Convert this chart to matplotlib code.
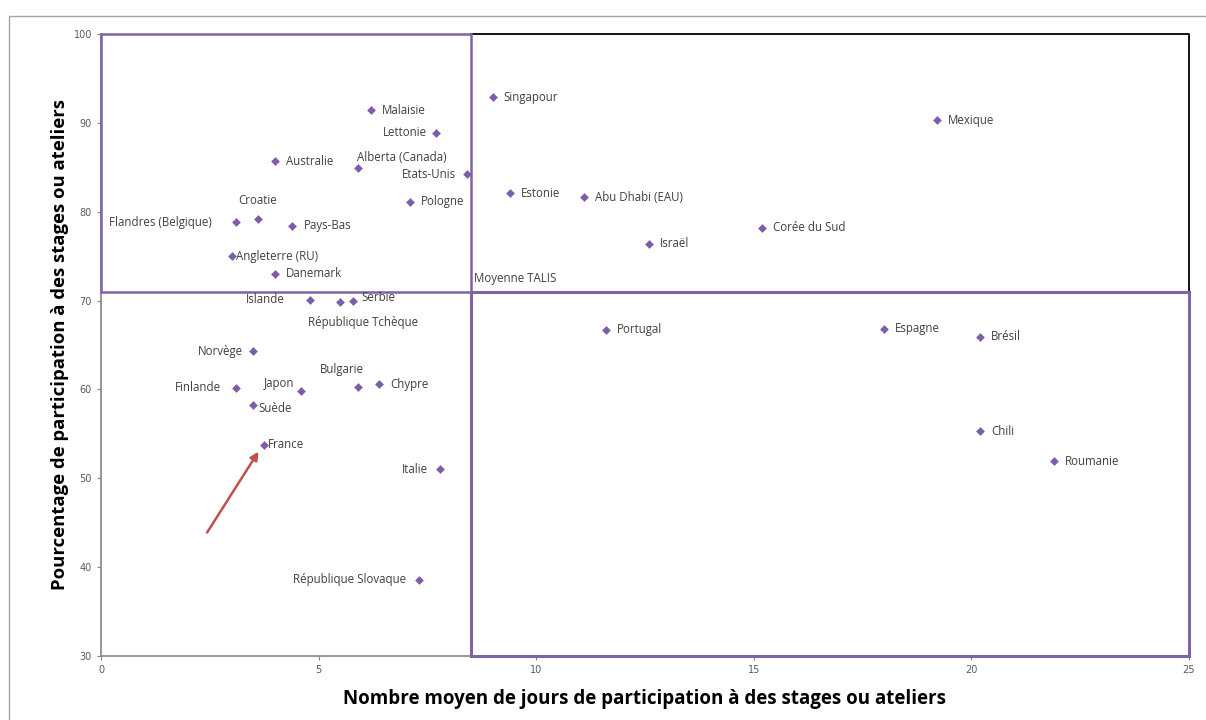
import matplotlib
matplotlib.use('Agg')
import matplotlib.pyplot as plt
from matplotlib.patches import Rectangle

# --- data ---
countries = ['Malaisie', 'Lettonie', 'Australie', 'Alberta (Canada)', 'Etats-Unis',
             'Pologne', 'Croatie', 'Flandres (Belgique)', 'Pays-Bas', 'Angleterre (RU)',
             'Danemark', 'Islande', 'République Tchèque', 'Serbie', 'Norvège',
             'Finlande', 'Suède', 'Japon', 'Bulgarie', 'Chypre', 'France', 'Italie',
             'République Slovaque', 'Singapour', 'Mexique', 'Estonie', 'Abu Dhabi (EAU)',
             'Corée du Sud', 'Israël', 'Portugal', 'Espagne', 'Brésil', 'Chili', 'Roumanie']
days = [6.2, 7.7, 4.0, 5.9, 8.4,
        7.1, 3.6, 3.1, 4.4, 3.0,
        4.0, 4.8, 5.5, 5.8, 3.5,
        3.1, 3.5, 4.6, 5.9, 6.4, 3.75, 7.8,
        7.3, 9.0, 19.2, 9.4, 11.1,
        15.2, 12.6, 11.6, 18.0, 20.2, 20.2, 21.9]
pct = [91.4, 88.9, 85.7, 84.9, 84.2,
       81.1, 79.2, 78.8, 78.4, 75.0,
       73.0, 70.1, 69.8, 70.0, 64.3,
       60.2, 58.2, 59.8, 60.3, 60.6, 53.8, 51.0,
       38.6, 92.9, 90.3, 82.1, 81.6,
       78.2, 76.4, 66.7, 66.8, 65.9, 55.3, 51.9]

talis_days = 8.5
talis_pct = 71

x_ticks = [0, 5, 10, 15, 20, 25]
y_ticks = [30, 40, 50, 60, 70, 80, 90, 100]

# label placement (pixel offsets from the point, alignment)
left = {'Lettonie': -9, 'Etats-Unis': -11, 'Flandres (Belgique)': -24, 'Islande': -25,
        'Norvège': -10, 'Finlande': -15, 'Italie': -12, 'République Slovaque': -13}
special = {
    'Alberta (Canada)': (-1, 11, 'left'),
    'Croatie': (0, 18, 'center'),
    'République Tchèque': (23, -20, 'center'),
    'Serbie': (8, 3, 'left'),
    'Japon': (-22, 8, 'center'),
    'Bulgarie': (-16, 17, 'center'),
    'Angleterre (RU)': (4, 0, 'left'),
    'Suède': (5, -3, 'left'),
    'France': (4, 0, 'left'),
}

purple = '#7F64A3'
txt = '#404040'

fig = plt.figure(figsize=(12.06, 7.2), dpi=100)
ax = fig.add_axes([0.0837, 0.0889, 0.9022, 0.8639])

ax.scatter(days, pct, marker='D', s=20, color='#7B5EA7', zorder=5, linewidths=0)

for name, x, y in zip(countries, days, pct):
    if name in special:
        dx, dy, ha = special[name]
    elif name in left:
        dx, dy, ha = left[name], 0, 'right'
    else:
        dx, dy, ha = 11, 0, 'left'
    ax.annotate(name, (x, y), xytext=(dx, dy), textcoords='offset pixels',
                ha=ha, va='center', fontsize=8.3, color=txt, family='Open Sans',
                zorder=6)

ax.annotate('Moyenne TALIS', (talis_days, talis_pct), xytext=(3, 13),
            textcoords='offset pixels', ha='left', va='center', fontsize=8.3,
            color=txt, family='Open Sans')

# quadrants
ax.add_patch(Rectangle((0, talis_pct), talis_days, 100 - talis_pct, fill=False,
                       ec=purple, lw=1.8, zorder=4, clip_on=False))
ax.plot([talis_days, 25, 25], [100, 100, talis_pct], color='black', lw=1.3,
        zorder=3, clip_on=False)
ax.add_patch(Rectangle((talis_days, 30), 25 - talis_days, talis_pct - 30, fill=False,
                       ec=purple, lw=2.2, zorder=4, clip_on=False))

# arrow to France
ax.annotate('', xy=(3.62, 53.0), xytext=(2.44, 43.9),
            arrowprops=dict(arrowstyle='-|>', color='#C0504D', lw=1.8,
                            mutation_scale=12, shrinkA=0, shrinkB=0))

ax.set_xlim(0, 25)
ax.set_ylim(30, 100)
ax.set_xticks(x_ticks)
ax.set_yticks(y_ticks)
ax.tick_params(labelsize=7, labelcolor='#595959', color='#868686', length=3, width=0.8)
for s in ['top', 'right']:
    ax.spines[s].set_visible(False)
for s in ['left', 'bottom']:
    ax.spines[s].set_color('#868686')
    ax.spines[s].set_linewidth(1.2)

ax.set_xlabel('Nombre moyen de jours de participation à des stages ou ateliers',
              fontsize=13.5, fontweight='bold', family='Open Sans', color='black',
              labelpad=10)
ax.set_ylabel('Pourcentage de participation à des stages ou ateliers',
              fontsize=13.3, fontweight='bold', family='Open Sans', color='black',
              labelpad=3)

# outer frame
fig.patches.append(Rectangle((9 / 1206, -0.1), 1.2, 1 - 16 / 720 + 0.1, fill=False,
                             ec='#A6A6A6', lw=1, transform=fig.transFigure))

fig.savefig('out.png', dpi=100)
